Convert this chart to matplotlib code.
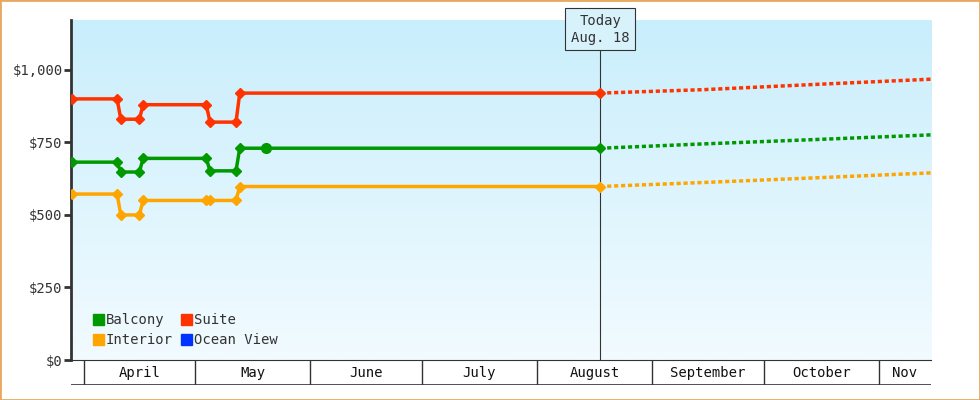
import numpy as np
import matplotlib
matplotlib.use("Agg")
from matplotlib import pyplot as plt
from matplotlib.patches import Rectangle
import matplotlib.dates as mdates
import datetime as dt

plt.rcParams["font.family"] = ["DejaVu Sans Mono"]

# ------------------------------------------------------------------------------
#  Data
# ------------------------------------------------------------------------------
hist_dates = ["2024-03-29", "2024-04-10", "2024-04-11", "2024-04-16", "2024-04-17",
              "2024-05-04", "2024-05-05", "2024-05-12", "2024-05-13", "2024-08-18"]
suite = [900, 900, 830, 830, 880, 880, 820, 820, 920, 920]
balcony = [682, 682, 648, 648, 695, 695, 652, 652, 730, 730]
interior = [572, 572, 500, 500, 550, 550, 550, 550, 598, 598]
balcony_extra_date, balcony_extra = "2024-05-20", 730

fc_dates = ["2024-08-18", "2024-09-15", "2024-10-15", "2024-11-15"]
suite_fc = [920, 932, 950, 968]
balcony_fc = [730, 745, 760, 776]
interior_fc = [598, 612, 628, 645]

months = ["April", "May", "June", "July", "August", "September", "October", "Nov"]
month_starts = ["2024-04-01", "2024-05-01", "2024-06-01", "2024-07-01",
                "2024-08-01", "2024-09-01", "2024-10-01", "2024-11-01", "2024-11-15"]
today = "2024-08-18"

C_SUITE, C_BAL, C_INT, C_OCEAN = "#ff3300", "#009900", "#ffa500", "#0033ff"

d = lambda s: mdates.date2num(dt.datetime.fromisoformat(s))
xh = [d(s) for s in hist_dates]
xf = [d(s) for s in fc_dates]
x0, x1 = d("2024-03-29") - 0.4, d("2024-11-15")

# ------------------------------------------------------------------------------
#  Plot
# ------------------------------------------------------------------------------
fig = plt.figure(figsize=(9.8, 4), dpi=100)
fig.patches.append(Rectangle((0, 0), 1, 1, transform=fig.transFigure, fill=False,
                             edgecolor="#e8a860", linewidth=2))
ax = fig.add_axes([71 / 980, 40 / 400, 860 / 980, 340 / 400])

grad = np.linspace(0, 1, 256).reshape(-1, 1)
cmap = matplotlib.colors.LinearSegmentedColormap.from_list("bg", ["#c9eefc", "#f2fbff"])
ax.imshow(grad, cmap=cmap, aspect="auto", extent=[0, 1, 0, 1],
          transform=ax.transAxes, zorder=0)

for y, yf, c in [(suite, suite_fc, C_SUITE), (balcony, balcony_fc, C_BAL),
                 (interior, interior_fc, C_INT)]:
    ax.plot(xh, y, color=c, lw=2.5, marker="D", ms=5, zorder=3)
    ax.plot(xf, yf, color=c, lw=2.5, ls=(0, (1.2, 0.8)), zorder=3)
ax.plot([d(balcony_extra_date)], [balcony_extra], "o", color=C_BAL, ms=7, zorder=3)

ax.axvline(d(today), color="#333333", lw=0.8, zorder=2)
ax.text(d(today), 1140, "Today\nAug. 18", ha="center", va="center", fontsize=10,
        color="#333333", linespacing=1.3,
        bbox=dict(boxstyle="square,pad=0.4", fc="#d8f2fc", ec="#333333", lw=0.8), zorder=4)

ax.set_xlim(x0, x1)
ax.set_ylim(0, 1172)
ax.set_yticks([0, 250, 500, 750, 1000])
ax.set_yticklabels(["$0", "$250", "$500", "$750", "$1,000"], fontsize=10, color="#333333")
ax.tick_params(axis="y", length=5, width=2, color="#333333", pad=1)
ax.set_xticks([])
for s in ["top", "right"]:
    ax.spines[s].set_visible(False)
ax.spines["left"].set_linewidth(2)
ax.spines["left"].set_color("#333333")
ax.spines["bottom"].set_color("#333333")

# legend
items = [("Balcony", C_BAL, 0), ("Suite", C_SUITE, 1), ("Interior", C_INT, 2), ("Ocean View", C_OCEAN, 3)]
for name, c, i in items:
    px = 93 + (i % 2) * 88
    py = 320 + (i // 2) * 20
    fig.patches.append(Rectangle((px / 980, (400 - py - 5) / 400), 11 / 980, 11 / 400,
                                 transform=fig.transFigure, color=c))
    fig.text((px + 13) / 980, (400 - py) / 400, name, fontsize=10, color="#333333", va="center")

# month strip
axm = fig.add_axes([71 / 980, 15 / 400, 860 / 980, 25 / 400])
axm.set_xlim(x0, x1)
axm.set_ylim(0, 1)
axm.axis("off")
axm.axhline(0, color="#333333", lw=1.2)
ms = [d(s) for s in month_starts]
for i, m in enumerate(months):
    axm.plot([ms[i], ms[i]], [0, 1], color="#333333", lw=1)
    axm.text((ms[i] + ms[i + 1]) / 2, 0.48, m, ha="center", va="center",
             fontsize=10, color="#111111")

fig.savefig("out.png", dpi=100)
